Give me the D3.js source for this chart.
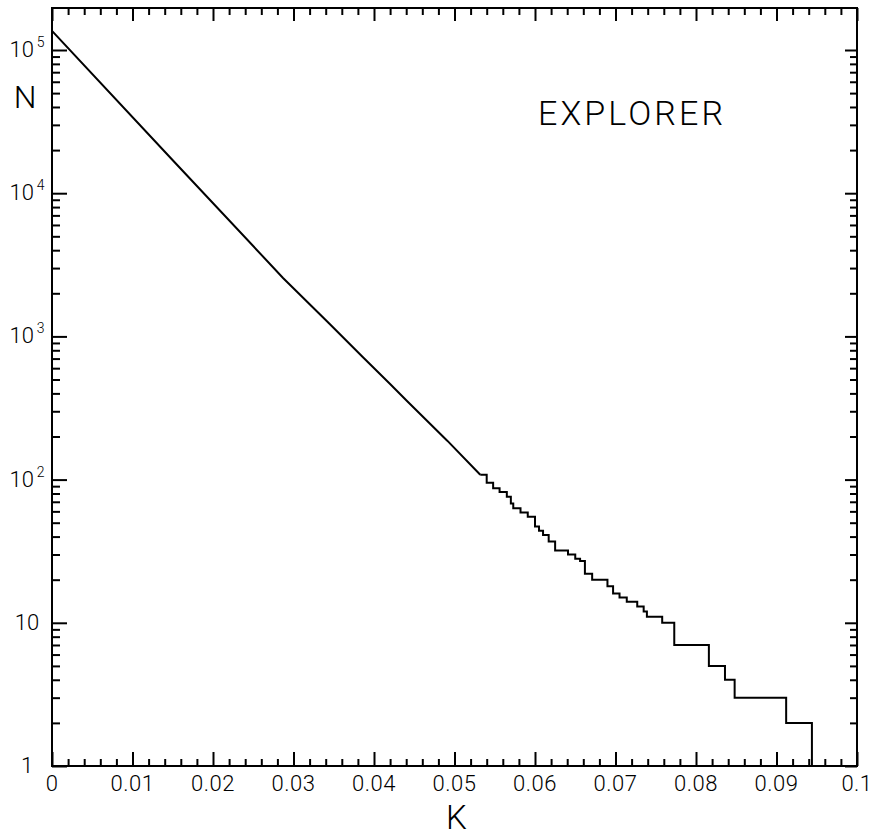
<!DOCTYPE html>
<html>
<head>
<meta charset="utf-8">
<script src="https://cdn.jsdelivr.net/npm/d3@7"></script>
<style>
  body { margin: 0; background: #fff; }
  text { font-family: Roboto, 'Liberation Sans', Arial, sans-serif; font-weight: 300; fill: #000; }
</style>
</head>
<body>
<div id="graph"></div>
<script>
// smooth upper part of the curve (K, N)
const kSmooth = [0, 0.0150, 0.0287, 0.0345, 0.0386, 0.0420, 0.0441, 0.0491, 0.0532];
const nSmooth = [136000, 17000, 2560, 1220, 718, 465, 354, 187, 108];

// stepped tail (level starts at K, value N)
const kSteps = [0.0532, 0.0540, 0.0548, 0.0556, 0.0565, 0.0570, 0.0573, 0.0582, 0.0591,
  0.0600, 0.0605, 0.0610, 0.0617, 0.0625, 0.0641, 0.0650, 0.0656, 0.0662, 0.0671,
  0.0690, 0.0697, 0.0705, 0.0714, 0.0727, 0.0735, 0.0739, 0.0758, 0.0773, 0.0816,
  0.0836, 0.0848, 0.0912, 0.0944];
const nSteps = [108, 95, 87, 82, 76, 68, 63, 59, 55,
  47, 44, 41, 37, 32, 30, 28, 27, 22, 20,
  18, 16, 15, 14, 13, 12, 11, 10, 7, 5,
  4, 3, 2, 1];

const xTicks = [0, 0.01, 0.02, 0.03, 0.04, 0.05, 0.06, 0.07, 0.08, 0.09, 0.1];
const xLabels = ['0', '0.01', '0.02', '0.03', '0.04', '0.05', '0.06', '0.07', '0.08', '0.09', '0.1'];
const yTicks = [1, 10, 100, 1000, 10000, 100000];
const yBase = ['1', '10', '10', '10', '10', '10'];
const yExp = ['', '', '2', '3', '4', '5'];

const W = 873, H = 839;
const margin = { top: 8, right: 16, bottom: 73, left: 52 };
const w = W - margin.left - margin.right;
const h = H - margin.top - margin.bottom;
const decade = 143.2;

const svg = d3.select('#graph')
  .append('svg')
  .attr('width', W)
  .attr('height', H);

const g = svg.append('g')
  .attr('transform', `translate(${margin.left},${margin.top})`);

const xScale = d3.scaleLinear().domain([0, 0.1]).range([0, w]);
const yScale = d3.scaleLog().domain([1, 1e5]).range([h, h - 5 * decade]);

const yTop = yScale.invert(0);
const xMinor = d3.range(0, 51).map(i => i * 0.002).filter((d, i) => i % 5 !== 0);
const yMinor = [];
yTicks.forEach(d => {
  for (let m = 2; m <= 9; m++) if (d * m <= yTop) yMinor.push(d * m);
});

const tickAxis = (axis, size, values) => axis.tickValues(values).tickSize(size).tickFormat('');

const addAxis = (axis, tr) => {
  const a = g.append('g').attr('transform', tr).call(axis);
  a.select('.domain').remove();
  a.selectAll('line').attr('stroke', '#000').attr('stroke-width', 2);
};

addAxis(tickAxis(d3.axisBottom(xScale), -14, xTicks), `translate(0,${h})`);
addAxis(tickAxis(d3.axisBottom(xScale), -7, xMinor), `translate(0,${h})`);
addAxis(tickAxis(d3.axisTop(xScale), -13, xTicks), 'translate(0,0)');
addAxis(tickAxis(d3.axisTop(xScale), -7, xMinor), 'translate(0,0)');
addAxis(tickAxis(d3.axisLeft(yScale), -15, yTicks), 'translate(0,0)');
addAxis(tickAxis(d3.axisLeft(yScale), -8, yMinor), 'translate(0,0)');
addAxis(tickAxis(d3.axisRight(yScale), -12, yTicks), `translate(${w},0)`);
addAxis(tickAxis(d3.axisRight(yScale), -7, yMinor), `translate(${w},0)`);

// frame
g.append('rect')
  .attr('width', w)
  .attr('height', h)
  .attr('fill', 'none')
  .attr('stroke', '#000')
  .attr('stroke-width', 2);

// x labels
g.selectAll('.xlab')
  .data(xTicks)
  .enter()
  .append('text')
  .attr('class', 'xlab')
  .attr('x', d => xScale(d))
  .attr('y', h + 25)
  .attr('text-anchor', 'middle')
  .style('font-size', '22px')
  .style('letter-spacing', '0.5px')
  .text((d, i) => xLabels[i]);

// y labels
const ylab = g.selectAll('.ylab')
  .data(yTicks)
  .enter()
  .append('text')
  .attr('class', 'ylab')
  .attr('x', -25)
  .attr('y', d => yScale(d) + 7)
  .attr('text-anchor', 'middle')
  .style('font-size', '22px');

ylab.append('tspan').text((d, i) => yBase[i]);
ylab.append('tspan')
  .attr('dx', 3)
  .attr('dy', -10)
  .style('font-size', '14px')
  .text((d, i) => yExp[i]);

// axis titles
svg.append('text')
  .attr('x', 25)
  .attr('y', 108)
  .attr('text-anchor', 'middle')
  .style('font-size', '32px')
  .text('N');

svg.append('text')
  .attr('x', margin.left + xScale(0.05) + 2)
  .attr('y', 829)
  .attr('text-anchor', 'middle')
  .style('font-size', '33px')
  .text('K');

svg.append('text')
  .attr('x', 538)
  .attr('y', 125)
  .attr('textLength', 185)
  .style('font-size', '34px')
  .text('EXPLORER');

// curve
const smooth = kSmooth.map((k, i) => ({ k, n: nSmooth[i] }));
const steps = kSteps.map((k, i) => ({ k, n: nSteps[i] }));

const line = d3.line()
  .x(d => xScale(d.k))
  .y(d => yScale(d.n));

g.append('path')
  .datum(smooth)
  .attr('d', line)
  .attr('fill', 'none')
  .attr('stroke', '#000')
  .attr('stroke-width', 2);

g.append('path')
  .datum(steps)
  .attr('d', line.curve(d3.curveStepAfter))
  .attr('fill', 'none')
  .attr('stroke', '#000')
  .attr('stroke-width', 2);
</script>
</body>
</html>
